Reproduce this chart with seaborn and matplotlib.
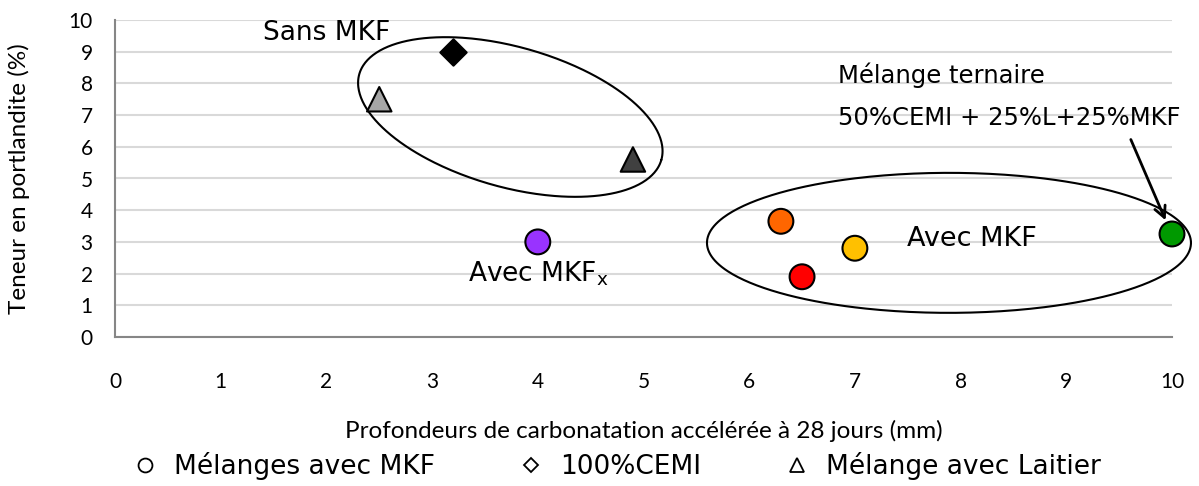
import numpy as np
import pandas as pd
import matplotlib
matplotlib.use("Agg")
import matplotlib.pyplot as plt
from matplotlib.lines import Line2D
import seaborn as sns

# ---- data ----
mkf_x = [4.0, 6.3, 6.5, 7.0, 10.0]
mkf_y = [3.0, 3.65, 1.9, 2.8, 3.25]
mkf_names = ["MKFx", "M1", "M2", "M3", "Ternaire"]
mkf_colors = ["#9933ff", "#ff6600", "#ff0000", "#ffc000", "#009900"]

cemi_x = [3.2]
cemi_y = [9.0]

laitier_x = [2.5, 4.9]
laitier_y = [7.5, 5.6]
laitier_names = ["L1", "L2"]
laitier_colors = ["#a6a6a6", "#404040"]

x_ticks = list(range(0, 11))
y_ticks = list(range(0, 11))
legend_labels = ["Mélanges avec MKF", "100%CEMI", "Mélange avec Laitier"]

sns.set_style("white")
plt.rcParams["font.family"] = ["DejaVu Sans"]
plt.rcParams["text.color"] = "black"
plt.rcParams["axes.labelcolor"] = "black"

LABEL_FONT = ["Lato", "DejaVu Sans"]

fig = plt.figure(figsize=(11.99, 4.86), dpi=100)
ax = fig.add_axes([115 / 1199, 1 - 337 / 486, (1172 - 115) / 1199, (337 - 20) / 486])

ax.set_xlim(0, 10)
ax.set_ylim(0, 10)
ax.set_xticks(x_ticks)
ax.set_yticks(y_ticks)
ax.yaxis.grid(True, color="#d9d9d9", lw=1.5)
ax.xaxis.grid(False)
ax.set_axisbelow(True)
for s in ["top", "right"]:
    ax.spines[s].set_visible(False)
for s in ["left", "bottom"]:
    ax.spines[s].set_color("#868686")
    ax.spines[s].set_linewidth(1.5)
ax.tick_params(axis="x", direction="out", length=8, width=1.5, color="#868686",
               pad=17, labelsize=15, labelcolor="black")
ax.tick_params(axis="y", direction="out", length=7, width=1.5, color="#868686",
               pad=9, labelsize=15, labelcolor="black")
for lab in ax.get_xticklabels() + ax.get_yticklabels():
    lab.set_family(LABEL_FONT)

df_mkf = pd.DataFrame({"x": mkf_x, "y": mkf_y, "name": mkf_names})
df_cemi = pd.DataFrame({"x": cemi_x, "y": cemi_y})
df_lait = pd.DataFrame({"x": laitier_x, "y": laitier_y, "name": laitier_names})

sns.scatterplot(data=df_mkf, x="x", y="y", hue="name", palette=mkf_colors,
                marker="o", s=320, edgecolor="black", linewidth=1.5, ax=ax,
                legend=False, zorder=5, clip_on=False)
sns.scatterplot(data=df_cemi, x="x", y="y", color="black", marker="D", s=180,
                edgecolor="black", linewidth=1.5, ax=ax, legend=False, zorder=5)
sns.scatterplot(data=df_lait, x="x", y="y", hue="name", palette=laitier_colors,
                marker="^", s=310, edgecolor="black", linewidth=1.5, ax=ax,
                legend=False, zorder=5)

ax.set_xlabel("Profondeurs de carbonatation accélérée à 28 jours (mm)",
              family=LABEL_FONT, fontsize=17.5, labelpad=20)
ax.set_ylabel("Teneur en portlandite (%)", family=LABEL_FONT,
              fontsize=17.5, labelpad=28)

# ---- ellipses (drawn in pixel space, mapped to data) ----
fig.canvas.draw()

def ellipse(center, a, b, angle_deg):
    cx, cy = ax.transData.transform(center)
    t = np.linspace(0, 2 * np.pi, 400)
    th = np.deg2rad(angle_deg)
    px = cx + a * np.cos(t) * np.cos(th) - b * np.sin(t) * np.sin(th)
    py = cy + a * np.cos(t) * np.sin(th) + b * np.sin(t) * np.cos(th)
    pts = ax.transData.inverted().transform(np.column_stack([px, py]))
    ax.plot(pts[:, 0], pts[:, 1], color="black", lw=1.5, clip_on=False, zorder=4)

ellipse((3.74, 6.94), 157, 70, -15.85)
ellipse((7.89, 2.97), 242, 70, 0)

# ---- annotations ----
ax.text(2.0, 9.6, "Sans MKF", fontsize=19, ha="center", va="center")
ax.text(8.11, 3.09, "Avec MKF", fontsize=19.5, ha="center", va="center")
ax.text(4.0, 2.0, r"Avec MKF$_\mathregular{x}$", fontsize=19, ha="center", va="center")
ax.text(6.84, 8.26, "Mélange ternaire", fontsize=17.5, ha="left", va="center")
ax.text(6.84, 6.91, "50%CEMI + 25%L+25%MKF", fontsize=17.5, ha="left", va="center")
ax.annotate("", xy=(9.95, 3.6), xytext=(9.6, 6.31),
            arrowprops=dict(arrowstyle="->", color="black", lw=2, mutation_scale=20),
            annotation_clip=False)

# ---- legend ----
handles = [
    Line2D([], [], ls="none", marker="o", markersize=10, markerfacecolor="white",
           markeredgecolor="black", markeredgewidth=1.3),
    Line2D([], [], ls="none", marker="D", markersize=7, markerfacecolor="white",
           markeredgecolor="black", markeredgewidth=1.3),
    Line2D([], [], ls="none", marker="^", markersize=10, markerfacecolor="white",
           markeredgecolor="black", markeredgewidth=1.3),
]
fig.legend(handles, legend_labels, loc="center", bbox_to_anchor=(0.514, 1 - 466 / 486),
           ncol=3, frameon=False, fontsize=19, handletextpad=0.6, columnspacing=3.15,
           handlelength=1.0, borderpad=0, borderaxespad=0)

fig.savefig("out.png", dpi=100)
